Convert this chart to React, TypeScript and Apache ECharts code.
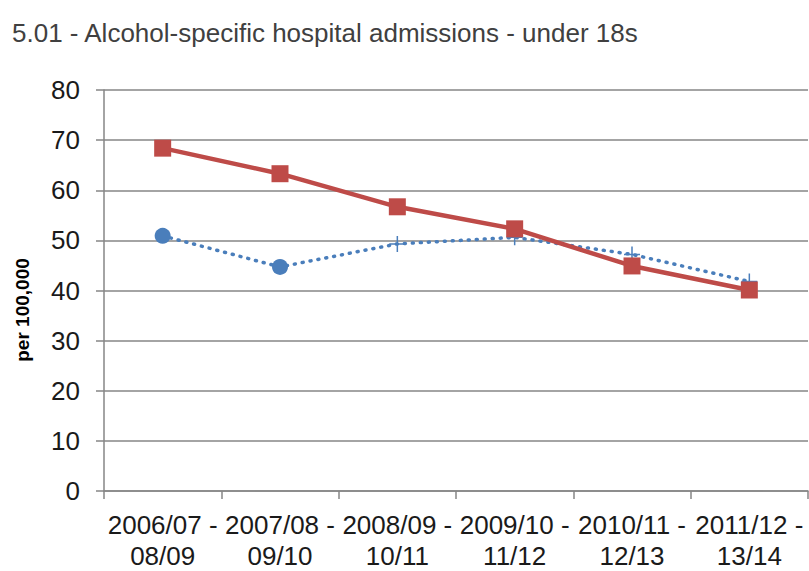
import React, { useEffect, useRef } from "react";
import * as echarts from "echarts";

const titleText = "5.01 - Alcohol-specific hospital admissions - under 18s";
const yAxisName = "per 100,000";
const categories = [
  "2006/07 -\n08/09",
  "2007/08 -\n09/10",
  "2008/09 -\n10/11",
  "2009/10 -\n11/12",
  "2010/11 -\n12/13",
  "2011/12 -\n13/14",
];
const redValues = [68.4, 63.3, 56.7, 52.3, 44.9, 40.1];
const blueValues = [50.9, 44.7, 49.3, 50.6, 47.2, 41.8];
const blueSymbols = ["circle", "circle", "plus", "plus", "plus", "plus"];

const FONT = '"Liberation Sans Narrow", "Arial Narrow", "Liberation Sans", Arial, sans-serif';
const PLUS = "path://M0,5L10,5M5,0L5,10";

export default function App() {
  const ref = useRef<HTMLDivElement>(null);
  useEffect(() => {
    if (!ref.current) return;
    const chart = echarts.init(ref.current, undefined, { renderer: "svg" });
    const blueData = blueValues.map((v, i) =>
      blueSymbols[i] === "circle"
        ? { value: v, symbol: "circle", symbolSize: 16, itemStyle: { color: "#4a7ebb" } }
        : {
            value: v,
            symbol: PLUS,
            symbolSize: 16,
            itemStyle: { color: "#4a7ebb", borderColor: "#4a7ebb", borderWidth: 1.5 },
          }
    );
    chart.setOption({
      animation: false,
      backgroundColor: "#ffffff",
      title: {
        text: titleText,
        left: 7,
        top: 15,
        textStyle: { fontFamily: FONT, fontSize: 26, fontWeight: "normal", color: "#404040" },
      },
      graphic: [
        {
          type: "text",
          x: 22,
          y: 310,
          rotation: Math.PI / 2,
          style: {
            text: yAxisName,
            fontFamily: '"Liberation Sans", Arial, sans-serif',
            fontSize: 19,
            fontWeight: "bold",
            fill: "#000000",
            align: "center",
            verticalAlign: "middle",
          },
        },
      ],
      grid: { left: 104, top: 90, right: 1, bottom: 80, containLabel: false },
      xAxis: {
        type: "category",
        data: categories,
        boundaryGap: true,
        axisLine: { lineStyle: { color: "#868686", width: 1.5 } },
        axisTick: { show: true, length: 8, lineStyle: { color: "#868686", width: 1.5 } },
        axisLabel: {
          fontFamily: FONT,
          fontSize: 26,
          color: "#1a1a1a",
          lineHeight: 31,
          margin: 18,
          interval: 0,
        },
      },
      yAxis: {
        type: "value",
        min: 0,
        max: 80,
        interval: 10,
        axisLine: { show: true, lineStyle: { color: "#868686", width: 1.5 } },
        axisTick: { show: true, length: 8, lineStyle: { color: "#868686", width: 1.5 } },
        splitLine: { lineStyle: { color: "#868686", width: 1.5 } },
        axisLabel: { fontFamily: FONT, fontSize: 26, color: "#1a1a1a", margin: 24 },
      },
      series: [
        {
          type: "line",
          data: blueData,
          lineStyle: { color: "#4a7ebb", width: 3.5, type: [1, 7], cap: "round" },
          itemStyle: { color: "#4a7ebb" },
          z: 2,
        },
        {
          type: "line",
          data: redValues,
          symbol: "rect",
          symbolSize: 17,
          lineStyle: { color: "#be4b48", width: 4.5 },
          itemStyle: { color: "#be4b48" },
          z: 3,
        },
      ],
    });
    return () => chart.dispose();
  }, []);
  return (
    <div
      ref={ref}
      style={{ position: "fixed", left: 0, top: 0, width: 809, height: 571, background: "#fff" }}
    />
  );
}
